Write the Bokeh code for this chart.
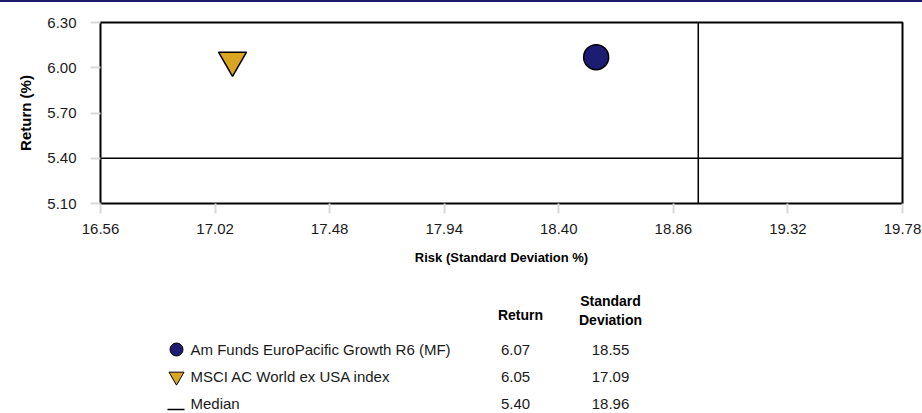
from bokeh.plotting import figure
from bokeh.models import Range1d, FixedTicker, Span, PrintfTickFormatter, Div
from bokeh.layouts import column
from bokeh.embed import file_html
from bokeh.resources import INLINE
from bokeh.core.properties import value

# ---- data ----
names = ["Am Funds EuroPacific Growth R6 (MF)", "MSCI AC World ex USA index", "Median"]
returns = [6.07, 6.05, 5.40]
std_devs = [18.55, 17.09, 18.96]
x_ticks = [16.56, 17.02, 17.48, 17.94, 18.40, 18.86, 19.32, 19.78]
y_ticks = [5.10, 5.40, 5.70, 6.00, 6.30]
col_headers = ["Return", "Standard", "Deviation"]

FONT = "Liberation Sans"
NAVY = "#1c1c72"
BAR = "#1b1b6b"
GOLD = "#daa520"
TXT = "#1a1a1a"
W = 922

# thin top bar
bar = Div(text="", width=W, height=2,
          styles={"background-color": BAR, "margin": "0", "padding": "0"})

p = figure(width=W, height=268, output_backend="svg", toolbar_location=None,
           x_range=Range1d(x_ticks[0], x_ticks[-1]),
           y_range=Range1d(y_ticks[0], y_ticks[-1]),
           min_border_left=100, min_border_right=20, min_border_top=20,
           min_border_bottom=67)
p.xgrid.visible = False
p.ygrid.visible = False
p.outline_line_color = "black"
p.outline_line_width = 2

p.xaxis.ticker = FixedTicker(ticks=x_ticks)
p.yaxis.ticker = FixedTicker(ticks=y_ticks)
for ax in (p.xaxis[0], p.yaxis[0]):
    ax.formatter = PrintfTickFormatter(format="%.2f")
    ax.axis_line_color = None
    ax.major_tick_line_color = "#d9d9d9"
    ax.major_tick_line_width = 2
    ax.major_tick_out = 10
    ax.major_tick_in = 0
    ax.minor_tick_line_color = None
    ax.major_label_text_font = FONT
    ax.major_label_text_font_size = "15px"
    ax.major_label_text_color = TXT
    ax.axis_label_text_font = FONT
    ax.axis_label_text_font_style = "bold"
    ax.axis_label_text_color = "black"
p.xaxis.axis_label = "Risk (Standard Deviation %)"
p.yaxis.axis_label = "Return (%)"
p.xaxis.axis_label_text_font_size = "13px"
p.yaxis.axis_label_text_font_size = "15px"
p.xaxis.major_label_standoff = 10
p.xaxis.axis_label_standoff = 13
p.yaxis.major_label_standoff = 14
p.yaxis.axis_label_standoff = 10

p.add_layout(Span(location=std_devs[2], dimension="height", line_color="black", line_width=1.5))
p.add_layout(Span(location=returns[2], dimension="width", line_color="black", line_width=1.5))

p.scatter([std_devs[0]], [returns[0]], marker="circle", size=25,
          fill_color=NAVY, line_color="black", line_width=1.5)
p.scatter([std_devs[1]], [returns[1]], marker="inverted_triangle", size=28,
          fill_color=GOLD, line_color="black", line_width=1.5)

# ---- legend table (frame aligned with the plot frame: x 100..902, y 270..413) ----
lf = figure(width=W, height=143, output_backend="svg", toolbar_location=None,
            x_range=Range1d(100, 902), y_range=Range1d(413, 270),
            min_border_top=0, min_border_bottom=0, min_border_left=100,
            min_border_right=20)
lf.axis.visible = False
lf.xgrid.visible = False
lf.ygrid.visible = False
lf.outline_line_color = None

row_y = [349, 376, 403]
lf.scatter([176], [row_y[0]], marker="circle", size=13, fill_color=NAVY,
           line_color="black", line_width=1)
lf.scatter([176], [row_y[1]], marker="inverted_triangle", size=15, fill_color=GOLD,
           line_color="black", line_width=1)
lf.segment(x0=[167], y0=[row_y[2] + 6], x1=[184], y1=[row_y[2] + 6],
           line_color="black", line_width=1.5)

lf.text(x=[190] * 3, y=row_y, text=names, text_align="left", text_baseline="middle",
        text_font=value(FONT), text_font_size="15px", text_color=TXT)
lf.text(x=[515] * 3, y=row_y, text=[f"{r:.2f}" for r in returns], text_align="center",
        text_baseline="middle", text_font=value(FONT), text_font_size="15px", text_color=TXT)
lf.text(x=[610] * 3, y=row_y, text=[f"{s:.2f}" for s in std_devs], text_align="center",
        text_baseline="middle", text_font=value(FONT), text_font_size="15px", text_color=TXT)
lf.text(x=[520, 610, 610], y=[314, 300, 319], text=col_headers, text_align="center",
        text_baseline="middle", text_font=value(FONT), text_font_size="14px",
        text_font_style="bold", text_color="black")

layout = column(bar, p, lf, spacing=0)
open("out.html", "w").write(file_html(layout, INLINE))
